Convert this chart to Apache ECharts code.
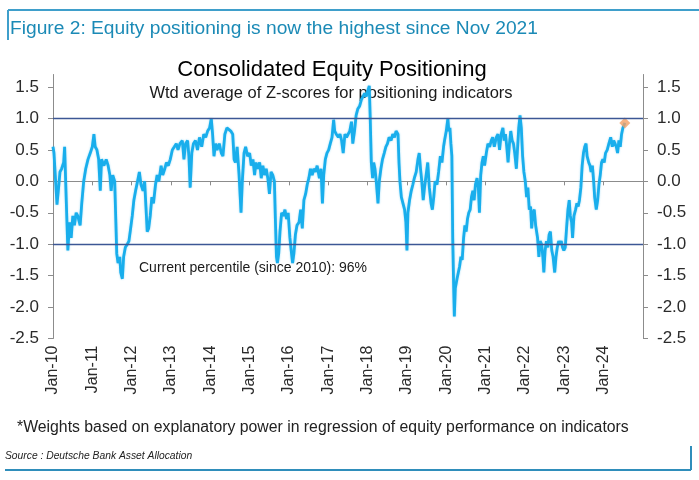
<!DOCTYPE html>
<html><head><meta charset="utf-8">
<script src="https://cdn.jsdelivr.net/npm/echarts@6/dist/echarts.min.js"></script>
<style>html,body{margin:0;padding:0;background:#fff}#c{width:699px;height:480px}</style>
</head><body><div id="c"></div>
<script>
const dates = [
'2010-01-01','2010-01-10','2010-01-22','2010-02-07','2010-02-22','2010-03-07','2010-03-22','2010-04-10','2010-04-19','2010-05-04','2010-05-19','2010-06-04','2010-06-19','2010-07-04','2010-07-19','2010-08-04','2010-08-19','2010-09-10','2010-09-25','2010-10-13','2010-11-01','2010-11-22','2010-12-13',
'2011-01-01','2011-01-16','2011-01-28','2011-02-13','2011-03-01','2011-03-16','2011-03-28','2011-04-19','2011-05-10','2011-05-28','2011-06-13','2011-06-25','2011-07-10','2011-07-28','2011-08-07','2011-08-16','2011-08-28','2011-09-13','2011-09-22','2011-10-07','2011-10-19','2011-11-04','2011-11-22','2011-12-07','2011-12-19',
'2012-01-07','2012-01-22','2012-02-07','2012-02-25','2012-03-13','2012-03-28','2012-04-16','2012-05-01','2012-05-13','2012-05-25','2012-06-07','2012-06-22','2012-07-07','2012-07-22','2012-08-10','2012-08-25','2012-09-10','2012-10-01','2012-10-16','2012-11-04','2012-11-19','2012-12-07','2012-12-25',
'2013-01-13','2013-02-01','2013-02-19','2013-03-07','2013-03-25','2013-04-16','2013-05-01','2013-05-16','2013-06-04','2013-06-16','2013-06-28','2013-07-13','2013-07-28','2013-08-16','2013-09-04','2013-09-22','2013-10-13','2013-11-01','2013-11-19','2013-12-07','2013-12-25',
'2014-01-10','2014-01-22','2014-02-04','2014-02-19','2014-03-04','2014-03-25','2014-04-13','2014-04-28','2014-05-16','2014-06-04','2014-06-22','2014-07-10','2014-07-28','2014-08-10','2014-08-22','2014-09-07','2014-09-25','2014-10-13','2014-10-25','2014-11-10','2014-11-25','2014-12-13',
'2015-01-01','2015-01-16','2015-02-01','2015-02-16','2015-03-01','2015-03-16','2015-04-04','2015-04-19','2015-05-04','2015-05-19','2015-06-04','2015-06-19','2015-07-04','2015-07-19','2015-08-04','2015-08-19','2015-08-28','2015-09-07','2015-09-16','2015-09-28','2015-10-10','2015-10-25','2015-11-10','2015-11-25','2015-12-10','2015-12-25',
'2016-01-10','2016-01-22','2016-02-04','2016-02-16','2016-03-01','2016-03-16','2016-04-04','2016-04-19','2016-05-04','2016-05-19','2016-06-04','2016-06-19','2016-07-04','2016-07-19','2016-08-04','2016-08-19','2016-09-04','2016-09-19','2016-10-10','2016-10-25','2016-11-07','2016-11-19','2016-12-04','2016-12-19',
'2017-01-04','2017-01-19','2017-02-04','2017-02-19','2017-03-01','2017-03-16','2017-04-04','2017-04-19','2017-05-04','2017-05-19','2017-06-04','2017-06-19','2017-07-04','2017-07-19','2017-08-04','2017-08-16','2017-09-01','2017-09-16','2017-10-01','2017-10-19','2017-11-04','2017-11-19','2017-12-04','2017-12-19',
'2018-01-04','2018-01-16','2018-01-25','2018-02-04','2018-02-16','2018-02-26','2018-03-10','2018-03-22','2018-04-07','2018-04-19','2018-05-04','2018-05-19','2018-06-04','2018-06-19','2018-07-04','2018-07-19','2018-08-07','2018-08-22','2018-09-07','2018-09-22','2018-10-10','2018-10-19','2018-10-28','2018-11-10','2018-11-25','2018-12-10','2018-12-22',
'2019-01-01','2019-01-10','2019-01-25','2019-02-10','2019-02-25','2019-03-10','2019-03-28','2019-04-13','2019-04-25','2019-05-07','2019-05-19','2019-06-01','2019-06-13','2019-06-28','2019-07-13','2019-07-28','2019-08-13','2019-08-25','2019-09-07','2019-09-19','2019-10-07','2019-10-22','2019-11-07','2019-11-22','2019-12-07','2019-12-16',
'2020-01-01','2020-01-16','2020-01-25','2020-02-04','2020-02-13','2020-02-22','2020-03-01','2020-03-10','2020-03-16','2020-03-25','2020-04-10','2020-04-22','2020-05-04','2020-05-16','2020-05-28','2020-06-10','2020-06-22','2020-07-04','2020-07-16','2020-07-28','2020-08-10','2020-08-22','2020-09-04','2020-09-16','2020-09-28','2020-10-13','2020-10-25','2020-11-04','2020-11-16','2020-11-28','2020-12-10','2020-12-22',
'2021-01-07','2021-01-22','2021-02-07','2021-02-22','2021-03-07','2021-03-22','2021-04-10','2021-04-25','2021-05-10','2021-05-25','2021-06-10','2021-06-22','2021-07-04','2021-07-16','2021-07-28','2021-08-10','2021-08-22','2021-09-04','2021-09-16','2021-09-28','2021-10-13','2021-10-25','2021-11-04','2021-11-16','2021-11-28','2021-12-10','2021-12-22',
'2022-01-04','2022-01-16','2022-01-28','2022-02-10','2022-02-22','2022-03-04','2022-03-16','2022-03-28','2022-04-10','2022-04-28','2022-05-10','2022-05-22','2022-06-04','2022-06-16','2022-06-25','2022-07-07','2022-07-19','2022-08-01','2022-08-13','2022-08-25','2022-09-07','2022-09-19','2022-10-04','2022-10-16','2022-10-28','2022-11-10','2022-11-22','2022-12-04','2022-12-16','2022-12-28',
'2023-01-10','2023-01-22','2023-02-04','2023-02-16','2023-02-26','2023-03-10','2023-03-19','2023-04-01','2023-04-16','2023-04-28','2023-05-10','2023-05-22','2023-06-04','2023-06-16','2023-06-28','2023-07-10','2023-07-22','2023-08-01','2023-08-16','2023-08-28','2023-09-07','2023-09-19','2023-10-01','2023-10-10','2023-10-25','2023-11-07','2023-11-19','2023-12-01','2023-12-13','2023-12-25',
'2024-01-07','2024-01-19','2024-02-04','2024-02-19','2024-03-07','2024-03-22','2024-04-04','2024-04-16','2024-04-28','2024-05-10','2024-05-22','2024-06-04','2024-06-16','2024-06-28','2024-07-10','2024-07-16'
];
const values = [
0.55,0.45,0.1,-0.37,-0.1,0.15,0.2,0.3,0.55,-0.3,-1.1,-0.65,-0.9,-0.55,-0.7,-0.5,-0.55,-0.7,-0.35,0.0,0.2,0.35,0.45,
0.55,0.75,0.55,0.5,0.35,-0.15,0.35,0.25,0.35,0.25,0.1,-0.15,0.1,0.0,-0.6,-1.15,-1.3,-1.2,-1.45,-1.55,-1.2,-1.05,-1.0,-0.95,-0.8,
-0.55,-0.3,-0.15,0.0,0.15,-0.05,-0.15,0.0,-0.4,-0.8,-0.75,-0.55,-0.25,-0.35,-0.05,0.1,0.0,0.25,0.1,0.2,0.3,0.25,0.35,
0.5,0.55,0.6,0.5,0.6,0.65,0.35,0.6,0.65,0.4,-0.1,0.45,0.6,0.65,0.5,0.7,0.55,0.75,0.7,0.8,0.85,
1.0,0.75,0.4,0.6,0.5,0.6,0.45,0.4,0.75,0.85,0.85,0.8,0.75,0.35,0.3,0.55,0.1,-0.5,0.0,0.45,0.55,0.4,
0.45,0.25,0.35,0.1,0.3,0.2,0.3,0.05,0.25,0.1,0.2,0.05,-0.2,0.15,0.1,0.0,-0.6,-1.2,-1.3,-1.15,-0.8,-0.5,-0.55,-0.45,-0.6,-0.5,
-0.9,-1.1,-1.3,-1.15,-0.85,-0.7,-0.65,-0.45,-0.75,-0.3,-0.2,-0.05,0.05,0.2,0.1,0.2,0.15,0.25,0.05,0.2,-0.35,0.1,0.35,0.45,
0.5,0.6,0.7,0.98,0.8,0.75,0.7,0.75,0.65,0.45,0.75,0.7,0.75,0.8,0.95,0.6,0.8,1.05,1.15,1.2,1.3,1.3,1.4,1.35,
1.45,1.52,1.0,0.3,0.05,0.3,0.2,0.0,-0.35,0.0,0.2,0.35,0.45,0.55,0.6,0.7,0.65,0.75,0.7,0.8,0.75,0.3,0.0,-0.25,-0.35,-0.45,-0.65,
-1.1,-0.5,-0.3,-0.15,-0.05,0.05,0.15,0.35,0.45,0.2,0.0,-0.3,-0.1,0.1,0.3,-0.1,-0.35,-0.45,-0.25,0.0,-0.05,0.15,0.4,0.3,0.55,0.65,
0.8,1.0,0.8,0.85,0.6,0.4,-0.9,-1.7,-2.15,-1.7,-1.55,-1.45,-1.35,-1.2,-1.25,-0.9,-0.7,-0.8,-0.6,-0.5,-0.45,-0.25,-0.15,-0.3,-0.05,0.05,-0.1,-0.5,0.1,0.3,0.4,0.25,
0.45,0.6,0.55,0.65,0.7,0.55,0.7,0.75,0.5,0.75,0.85,0.65,0.75,0.55,0.3,0.6,0.8,0.65,0.6,0.45,0.2,0.55,0.85,1.05,0.85,0.4,0.15,
0.0,-0.25,-0.1,-0.45,-0.4,-0.75,-0.5,-0.45,-0.7,-0.9,-1.2,-0.95,-1.0,-1.2,-1.45,-1.1,-0.95,-1.05,-0.85,-0.8,-1.1,-1.2,-1.45,-1.2,-1.05,-0.95,-1.0,-0.95,-1.05,-1.1,
-1.05,-0.75,-0.45,-0.3,-0.55,-0.65,-0.9,-0.55,-0.45,-0.35,-0.4,-0.3,-0.1,0.25,0.45,0.55,0.6,0.4,0.3,0.25,0.15,0.25,0.0,-0.25,-0.45,-0.3,-0.05,0.1,0.3,0.35,
0.3,0.45,0.5,0.6,0.7,0.55,0.65,0.6,0.55,0.45,0.65,0.55,0.75,0.85,0.9,0.93
];
const yearLabels = ['Jan-10','Jan-11','Jan-12','Jan-13','Jan-14','Jan-15','Jan-16','Jan-17','Jan-18','Jan-19','Jan-20','Jan-21','Jan-22','Jan-23','Jan-24'];
const yTickValues = [-2.5,-2.0,-1.5,-1.0,-0.5,0.0,0.5,1.0,1.5];
const refLevels = [1.0,-1.0];
const headerText = 'Figure 2: Equity positioning is now the highest since Nov 2021';
const chartTitle = 'Consolidated Equity Positioning';
const chartSubtitle = 'Wtd average of Z-scores for positioning indicators';
const percentileNote = 'Current percentile (since 2010): 96%';
const footnote = '*Weights based on explanatory power in regression of equity performance on indicators';
const sourceText = 'Source : Deutsche Bank Asset Allocation';

function ts(s) { const p = s.split('-').map(Number); return Date.UTC(p[0], p[1] - 1, p[2]); }
const yearTs = yearLabels.map(l => Date.UTC(2000 + parseInt(l.slice(4), 10), 0, 1));
const labelByTs = {};
yearTs.forEach((t, i) => { labelByTs[t] = yearLabels[i]; });
const xMin = Date.UTC(2010, 0, 1);
const xMax = Date.UTC(2025, 0, 1);
const lineData = dates.map((d, i) => [ts(d), values[i]]);
const last = lineData[lineData.length - 1];
const FONT = '"Liberation Sans", Arial, sans-serif';

const chart = echarts.init(document.getElementById('c'), null, {renderer: 'canvas'});
const yAxisCommon = {
  type: 'value', min: -2.5, max: 1.7, interval: 0.5,
  splitLine: {show: false},
  axisLine: {show: true, lineStyle: {color: '#8c8c8c', width: 1}},
  axisTick: {show: true, length: 5, lineStyle: {color: '#8c8c8c'}, customValues: yTickValues},
  axisLabel: {customValues: yTickValues, color: '#2b2b2b', fontSize: 17, fontFamily: FONT, margin: 14,
    formatter: v => Number(v).toFixed(1)}
};
chart.setOption({
  animation: false,
  backgroundColor: '#ffffff',
  grid: {left: 53, right: 56, top: 74.5, bottom: 141.5, containLabel: false},
  xAxis: [{
    type: 'value', min: xMin, max: xMax, position: 'bottom',
    axisLine: {show: false, onZero: false}, axisTick: {show: false}, splitLine: {show: false},
    axisLabel: {customValues: yearTs, rotate: 90, margin: 7, color: '#2b2b2b', fontSize: 16, fontFamily: FONT,
      formatter: v => labelByTs[v] || ''}
  }, {
    type: 'value', min: xMin, max: xMax, position: 'bottom',
    axisLine: {show: true, onZero: true, onZeroAxisIndex: 0, lineStyle: {color: '#8c8c8c', width: 1}},
    axisTick: {show: true, length: 4, customValues: yearTs, lineStyle: {color: '#8c8c8c'}},
    axisLabel: {show: false}, splitLine: {show: false}
  }],
  yAxis: [Object.assign({position: 'left'}, yAxisCommon), Object.assign({position: 'right'}, yAxisCommon)],
  series: [{
    type: 'line', data: lineData, xAxisIndex: 0, yAxisIndex: 0,
    showSymbol: false, symbol: 'none',
    lineStyle: {color: '#19AEEC', width: 2.8, shadowColor: 'rgba(25,174,236,0.45)', shadowBlur: 2},
    markLine: {silent: true, symbol: 'none', label: {show: false},
      lineStyle: {color: '#3C5795', width: 1.3, type: 'solid'},
      data: refLevels.map(v => ({yAxis: v}))},
    z: 3
  }, {
    type: 'scatter', data: [last], symbol: 'diamond', symbolSize: 11,
    itemStyle: {color: '#F2A066'}, z: 4
  }],
  graphic: [
    {type: 'line', shape: {x1: 8, y1: 10, x2: 699, y2: 10}, style: {stroke: '#3F9FCB', lineWidth: 2}},
    {type: 'line', shape: {x1: 8, y1: 10, x2: 8, y2: 40}, style: {stroke: '#3F9FCB', lineWidth: 2}},
    {type: 'text', x: 10, y: 29, style: {text: headerText, fill: '#1B8AB6', font: '19.2px ' + FONT, textAlign: 'left', textVerticalAlign: 'middle'}},
    {type: 'text', x: 332, y: 70, style: {text: chartTitle, fill: '#000', font: '22px ' + FONT, textAlign: 'center', textVerticalAlign: 'middle'}},
    {type: 'text', x: 331, y: 93, style: {text: chartSubtitle, fill: '#1a1a1a', font: '16.5px ' + FONT, textAlign: 'center', textVerticalAlign: 'middle'}},
    {type: 'text', x: 139, y: 268, style: {text: percentileNote, fill: '#1a1a1a', font: '14px ' + FONT, textAlign: 'left', textVerticalAlign: 'middle'}},
    {type: 'text', x: 17, y: 428, style: {text: footnote, fill: '#222', font: '15.8px ' + FONT, textAlign: 'left', textVerticalAlign: 'middle'}},
    {type: 'text', x: 5, y: 456, style: {text: sourceText, fill: '#222', font: 'italic 10.3px ' + FONT, textAlign: 'left', textVerticalAlign: 'middle'}},
    {type: 'line', shape: {x1: 5, y1: 470, x2: 691, y2: 470}, style: {stroke: '#2F8EBB', lineWidth: 2}},
    {type: 'line', shape: {x1: 691, y1: 446, x2: 691, y2: 470}, style: {stroke: '#2F8EBB', lineWidth: 2}}
  ]
});
</script></body></html>
